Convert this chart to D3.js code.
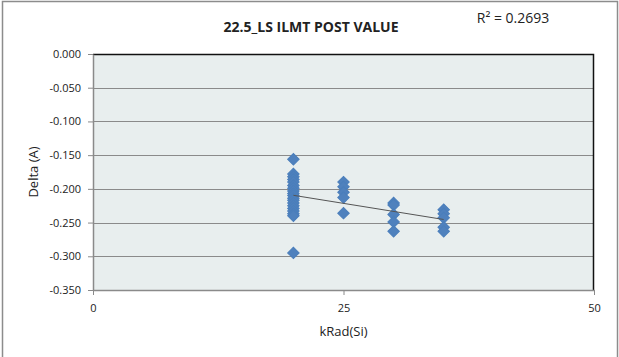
<!DOCTYPE html>
<html lang="en">
<head>
<meta charset="UTF-8">
<title>22.5_LS ILMT POST VALUE</title>
<script src="https://d3js.org/d3.v7.min.js"></script>
<style>
  body { margin: 0; background: #fff; }
  svg text { font-family: "Open Sans", "Noto Sans", sans-serif; fill: #222; }
</style>
</head>
<body>
<div id="chart"></div>
<script>
// Data
const dose = [20, 20, 20, 20, 20, 20, 20, 20, 20, 20, 20, 20, 20, 20, 20, 20, 20, 20, 20,
              25, 25, 25, 25, 25,
              30, 30, 30, 30, 30,
              35, 35, 35, 35, 35];
const delta = [-0.156, -0.178, -0.182, -0.186, -0.190, -0.195, -0.199, -0.203, -0.207, -0.210,
               -0.214, -0.217, -0.221, -0.225, -0.229, -0.233, -0.237, -0.240, -0.295,
               -0.190, -0.197, -0.205, -0.213, -0.236,
               -0.221, -0.224, -0.238, -0.249, -0.263,
               -0.231, -0.237, -0.243, -0.257, -0.263];
const yTicks = [0, -0.05, -0.10, -0.15, -0.20, -0.25, -0.30, -0.35];
const xTicks = [0, 25, 50];
const title = "22.5_LS ILMT POST VALUE";
const r2Label = "R² = 0.2693";

const W = 619, H = 357;
const margin = { top: 54, right: 25, bottom: 66, left: 93 };
const width = 594 - margin.left;
const height = 290 - margin.top;

const svg = d3.select("#chart").append("svg")
    .attr("width", W)
    .attr("height", H);

// outer frame
svg.append("rect")
    .attr("x", 2.5).attr("y", 1.5)
    .attr("width", 615).attr("height", 370)
    .attr("fill", "#fff")
    .attr("stroke", "#8c8c8c")
    .attr("stroke-width", 1.5);

const chart = svg.append("g")
    .attr("transform", `translate(${margin.left},${margin.top})`);

const x = d3.scaleLinear().domain([0, 50]).range([0, width]);
const y = d3.scaleLinear().domain([-0.35, 0]).range([height, 0]);

// plot area
chart.append("rect")
    .attr("width", width).attr("height", height)
    .attr("fill", "#e8eeee");

// gridlines
chart.append("g")
    .selectAll("line")
    .data(yTicks)
    .enter().append("line")
    .attr("x1", 0).attr("x2", width)
    .attr("y1", d => Math.round(y(d)) + 0.5)
    .attr("y2", d => Math.round(y(d)) + 0.5)
    .attr("stroke", "#8a8a8a");

// top and right border (dark)
chart.append("path")
    .attr("d", `M0,0.5H${width - 0.5}V${height}`)
    .attr("fill", "none")
    .attr("stroke", "#111")
    .attr("stroke-width", 1.5);

// axes
const yAxis = chart.append("g")
    .call(d3.axisLeft(y).tickValues(yTicks).tickFormat(d3.format(".3f")).tickSize(5).tickSizeOuter(0));
const xAxis = chart.append("g")
    .attr("transform", `translate(0,${height})`)
    .call(d3.axisBottom(x).tickValues(xTicks).tickSize(5).tickSizeOuter(0).tickPadding(9));

[yAxis, xAxis].forEach(a => {
    a.select(".domain").attr("stroke", "#8a8a8a").attr("stroke-width", 1.5);
    a.selectAll(".tick line").attr("stroke", "#8a8a8a");
    a.selectAll(".tick text").attr("font-size", 11).attr("fill", "#222")
        .attr("font-family", "\"Open Sans\", \"Noto Sans\", sans-serif");
});
yAxis.selectAll(".tick text").attr("x", -12).text(d => d === 0 ? "0.000" : d3.format(".3f")(d).replace("−", "-"));

// trendline (least squares)
const n = dose.length;
const mx = d3.mean(dose), my = d3.mean(delta);
let sxy = 0, sxx = 0;
for (let i = 0; i < n; i++) { sxy += (dose[i] - mx) * (delta[i] - my); sxx += (dose[i] - mx) ** 2; }
const slope = sxy / sxx, icpt = my - slope * mx;
const x0 = d3.min(dose), x1 = d3.max(dose);

// markers
const diamond = d3.symbol().type(d3.symbolSquare).size(66);
chart.append("g")
    .selectAll("path")
    .data(dose.map((d, i) => [d, delta[i]]))
    .enter().append("path")
    .attr("d", diamond)
    .attr("transform", d => `translate(${x(d[0])},${y(d[1])}) rotate(45)`)
    .attr("fill", "#4f81bd")
    .attr("stroke", "#4a7ebb")
    .attr("stroke-width", 1);

chart.append("line")
    .attr("x1", x(x0)).attr("y1", y(icpt + slope * x0))
    .attr("x2", x(x1)).attr("y2", y(icpt + slope * x1))
    .attr("stroke", "#555")
    .attr("stroke-width", 1);

// titles
svg.append("text")
    .attr("x", 311).attr("y", 32)
    .attr("text-anchor", "middle")
    .attr("font-size", 14).attr("font-weight", "bold")
    .text(title);

svg.append("text")
    .attr("x", 513).attr("y", 23)
    .attr("font-size", 14)
    .attr("text-anchor", "middle")
    .text(r2Label);

svg.append("text")
    .attr("x", margin.left + width / 2).attr("y", 336)
    .attr("text-anchor", "middle")
    .attr("font-size", 13)
    .text("kRad(Si)");

svg.append("text")
    .attr("transform", `translate(38,${margin.top + height / 2}) rotate(-90)`)
    .attr("text-anchor", "middle")
    .attr("font-size", 13)
    .text("Delta (A)");
</script>
</body>
</html>
